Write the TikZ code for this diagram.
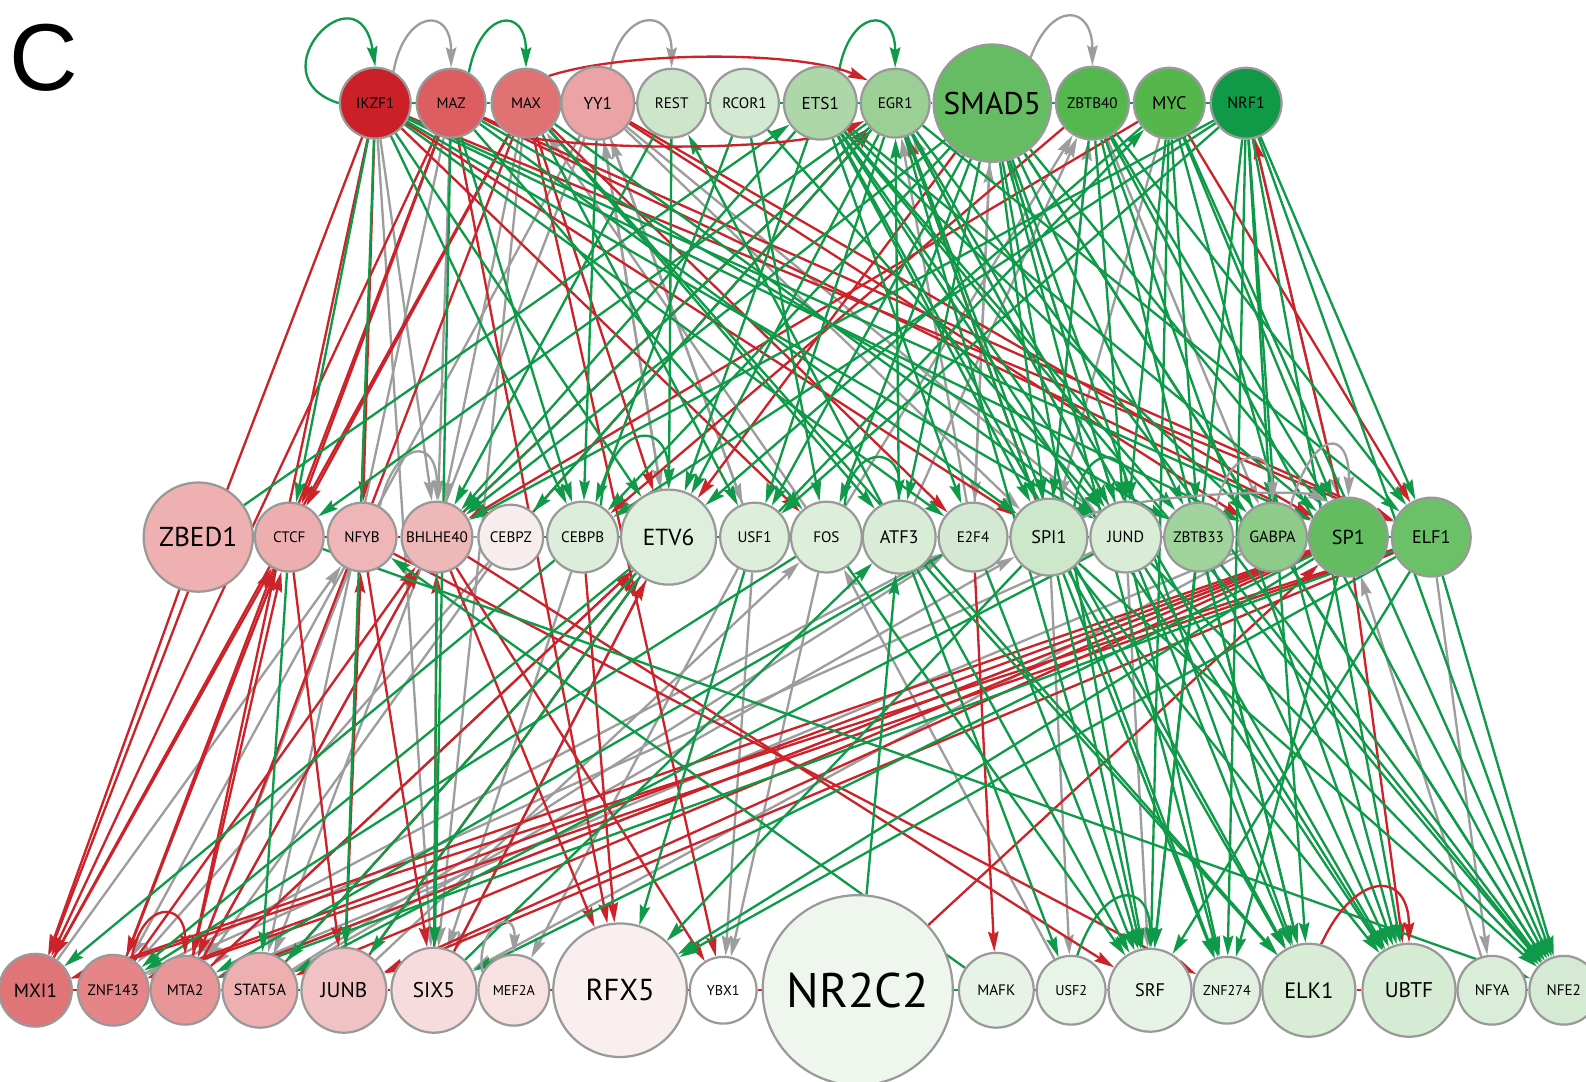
\documentclass[tikz,border=0pt]{standalone}
\usepackage{fontspec}
\newfontfamily\nf{PT Sans}
\newfontfamily\lf{Liberation Sans}
\usetikzlibrary{arrows.meta}
\pgfdeclarelayer{bg}
\pgfsetlayers{bg,main}
\definecolor{cr}{HTML}{CC2229}
\definecolor{cg}{HTML}{0E9A48}
\definecolor{cy}{HTML}{9D9D9D}
\definecolor{ndb}{HTML}{999999}
\newcommand\tfnode[7]{\definecolor{c#1}{HTML}{#6}\node[tfs, minimum size=#5pt, fill=c#1, font=\nf\fontsize{#7}{#7}\selectfont] (#1) at (#2,-#3) {#4};}
\tikzset{
  tfs/.style={circle, draw=ndb, line width=1.1pt, inner sep=0pt, text=black},
  ahd/.style={-{Stealth[length=10pt,width=5.2pt,inset=1.4pt]}},
  er/.style={draw=cr, line width=1.15pt, ahd},
  eg/.style={draw=cg, line width=1.15pt, ahd},
  ey/.style={draw=cy, line width=1.15pt, ahd},
  sr/.style={draw=cr, line width=1.2pt},
  sg/.style={draw=cg, line width=1.2pt},
  sy/.style={draw=cy, line width=1.2pt}
}
\begin{document}
\begin{tikzpicture}[x=0.5pt,y=0.5pt]
\useasboundingbox (0,0) rectangle (1568,-1069);
\begin{pgfonlayer}{bg}
\fill[white] (0,0) rectangle (1568,-1069);
\end{pgfonlayer}
\node[font=\lf\fontsize{47}{47}\selectfont, inner sep=0pt] (lbl) at (43,-57) {C};
% top row
\tfnode{ikzf1}{371}{102}{IKZF1}{35}{CB2027}{7.5}
\tfnode{maz}{446}{102}{MAZ}{34}{DD5E60}{7.5}
\tfnode{max}{520}{102}{MAX}{34}{E07274}{7.5}
\tfnode{yy1}{591}{102}{YY1}{36}{EBA3A5}{8.5}
\tfnode{rest}{664}{102}{REST}{34}{CDE6CB}{7.5}
\tfnode{rcor1}{736}{102}{RCOR1}{34}{D3E9D1}{7.5}
\tfnode{ets1}{811}{102}{ETS1}{36}{AED7A9}{8.5}
\tfnode{egr1}{885}{102}{EGR1}{34}{9BCF95}{7.5}
\tfnode{smad5}{981}{102}{SMAD5}{58}{66BC62}{15.5}
\tfnode{zbtb40}{1080}{102}{ZBTB40}{36}{55B74F}{7.5}
\tfnode{myc}{1156}{102}{MYC}{35}{55B74B}{9}
\tfnode{nrf1}{1232}{102}{NRF1}{35}{109A48}{8}
% middle row
\tfnode{zbed1}{196}{531}{ZBED1}{54}{EEB0B1}{13.5}
\tfnode{ctcf}{286}{531}{CTCF}{34}{EDAEAF}{7.5}
\tfnode{nfyb}{358}{531}{NFYB}{34}{EEB6B7}{7.5}
\tfnode{bhlhe40}{432}{531}{BHLHE40}{35}{EEB7B8}{7.5}
\tfnode{cebpz}{505}{531}{CEBPZ}{32}{F8EDED}{7.5}
\tfnode{cebpb}{576}{531}{CEBPB}{35}{DCEEDB}{7.5}
\tfnode{etv6}{661}{531}{ETV6}{47}{DFEFDD}{11.5}
\tfnode{usf1}{746}{531}{USF1}{34}{DDEEDB}{7.5}
\tfnode{fos}{817}{531}{FOS}{35}{DDEEDB}{7.5}
\tfnode{atf3}{889}{531}{ATF3}{36}{D8ECD6}{9}
\tfnode{e2f4}{962}{531}{E2F4}{34}{D3E9D1}{7.5}
\tfnode{spi1}{1037}{531}{SPI1}{38}{CDE7CB}{9}
\tfnode{jund}{1113}{531}{JUND}{35}{D8ECD6}{8}
\tfnode{zbtb33}{1185}{531}{ZBTB33}{34}{A1D39C}{7.5}
\tfnode{gabpa}{1258}{531}{GABPA}{34}{8ECA88}{8}
\tfnode{sp1}{1333}{531}{SP1}{39}{63BC5F}{10}
\tfnode{elf1}{1415}{531}{ELF1}{39}{6CC068}{9}
% bottom row
\tfnode{mxi1}{35}{979}{MXI1}{36}{E07577}{9.5}
\tfnode{znf143}{112}{979}{ZNF143}{35}{E58587}{7.5}
\tfnode{mta2}{183}{979}{MTA2}{34}{E89698}{7.5}
\tfnode{stat5a}{257}{979}{STAT5A}{37}{EEAFB0}{8}
\tfnode{junb}{340}{979}{JUNB}{42}{F0C2C3}{10.5}
\tfnode{six5}{429}{979}{SIX5}{42}{F6DCDD}{10.5}
\tfnode{mef2a}{508}{979}{MEF2A}{35}{F7E1E1}{7}
\tfnode{rfx5}{613}{979}{RFX5}{66}{FAEFEF}{15}
\tfnode{ybx1}{715}{979}{YBX1}{33}{FFFFFF}{7}
\tfnode{nr2c2}{848}{979}{NR2C2}{94}{EFF6EE}{24}
\tfnode{mafk}{985}{979}{MAFK}{37}{E7F3E6}{7.5}
\tfnode{usf2}{1059}{979}{USF2}{34}{E9F4E8}{7}
\tfnode{srf}{1137}{979}{SRF}{41}{E7F3E6}{9}
\tfnode{znf274}{1213}{979}{ZNF274}{33}{E1F0E0}{7}
\tfnode{elk1}{1294}{979}{ELK1}{46}{D8ECD6}{11}
\tfnode{ubtf}{1393}{979}{UBTF}{46}{D6EBD4}{10.5}
\tfnode{nfya}{1475}{979}{NFYA}{34}{DAEDD8}{7.5}
\tfnode{nfe2}{1546}{979}{NFE2}{34}{D4EAD2}{7.5}
\begin{pgfonlayer}{bg}
% grey edges
\foreach \a/\b in {ikzf1/bhlhe40, ikzf1/six5, maz/bhlhe40, maz/stat5a, max/bhlhe40, max/six5,
  yy1/usf1, yy1/etv6, yy1/jund, yy1/spi1, yy1/stat5a, yy1/znf143,
  smad5/e2f4, zbtb40/gabpa, myc/spi1, nrf1/sp1,
  e2f4/egr1, jund/egr1, e2f4/smad5, jund/smad5, atf3/zbtb40, fos/zbtb40, spi1/zbtb40, usf1/yy1, etv6/yy1, fos/max,
  ctcf/znf143, nfyb/mta2, bhlhe40/mta2, cebpz/mta2, cebpz/znf143, cebpb/six5, etv6/mta2, etv6/six5,
  usf1/ybx1, usf1/mef2a, fos/ybx1, spi1/usf2, jund/srf, jund/znf143, gabpa/mta2, gabpa/six5, elf1/nfya,
  znf143/e2f4, stat5a/e2f4, mta2/sp1, junb/fos, nfya/sp1, mxi1/nfyb, stat5a/spi1, usf2/fos}
  \draw[ey] (\a) -- (\b);
% red edges
\foreach \a/\b in {ikzf1/mxi1, ikzf1/nfyb, ikzf1/spi1, ikzf1/elf1, ikzf1/mta2, ikzf1/fos,
  maz/ctcf, maz/elf1, maz/sp1, maz/mxi1, maz/rfx5, maz/znf143,
  max/ctcf, max/etv6, max/e2f4, max/mxi1, max/mta2, max/ybx1,
  yy1/sp1, yy1/gabpa, smad5/etv6, zbtb40/cebpb, myc/bhlhe40, myc/elf1,
  bhlhe40/egr1, cebpz/egr1, spi1/egr1, sp1/nrf1,
  zbed1/mxi1, ctcf/junb, nfyb/znf274, nfyb/six5, bhlhe40/rfx5, bhlhe40/ybx1, bhlhe40/srf,
  cebpb/rfx5, e2f4/mafk,
  sp1/mxi1, sp1/znf143, sp1/mta2, sp1/stat5a, sp1/junb, sp1/ubtf, elf1/junb, elf1/mxi1, elf1/znf143,
  mxi1/ctcf, znf143/ctcf, mta2/ctcf, mta2/bhlhe40, znf143/bhlhe40, junb/nfyb, mta2/etv6, stat5a/etv6,
  junb/etv6, six5/etv6, nr2c2/sp1, six5/bhlhe40}
  \draw[er] (\a) -- (\b);
% green edges
\foreach \a/\b in {ikzf1/ctcf, ikzf1/cebpb, ikzf1/jund, ikzf1/gabpa, ikzf1/sp1, ikzf1/etv6, ikzf1/e2f4, ikzf1/junb,
  maz/cebpb, maz/spi1, maz/zbtb33, maz/fos, maz/six5,
  max/usf1, max/jund, max/atf3, max/elk1, yy1/cebpb,
  rest/etv6, rest/bhlhe40, rcor1/cebpb, rcor1/fos, rcor1/jund,
  ets1/jund, ets1/spi1, ets1/gabpa, ets1/zbtb33, ets1/e2f4, ets1/bhlhe40, ets1/etv6, ets1/sp1, ets1/ubtf, ets1/elk1, ets1/nfe2,
  egr1/bhlhe40, egr1/cebpz, egr1/etv6, egr1/jund, egr1/spi1, egr1/elf1, egr1/usf1, egr1/ctcf, egr1/srf, egr1/ubtf, egr1/nfe2, egr1/znf274,
  smad5/bhlhe40, smad5/cebpb, smad5/jund, smad5/spi1, smad5/gabpa, smad5/sp1, smad5/zbtb33, smad5/atf3, smad5/fos, smad5/usf1,
  smad5/elk1, smad5/nfe2, smad5/srf, smad5/znf274,
  zbtb40/jund, zbtb40/spi1, zbtb40/sp1, zbtb40/elf1, zbtb40/elk1, zbtb40/nfe2, zbtb40/ubtf,
  myc/jund, myc/zbtb33, myc/sp1, myc/etv6, myc/ubtf, myc/srf, myc/nfe2,
  nrf1/bhlhe40, nrf1/cebpb, nrf1/usf1, nrf1/gabpa, nrf1/elf1, nrf1/elk1, nrf1/ubtf, nrf1/srf, nrf1/znf274, nrf1/nfe2,
  atf3/egr1, usf1/myc, atf3/rest, zbed1/ets1,
  ctcf/stat5a, ctcf/nfe2, bhlhe40/six5, cebpb/mxi1, etv6/stat5a, etv6/junb, etv6/znf143, usf1/rfx5,
  fos/srf, fos/znf143, atf3/elk1, atf3/srf, atf3/usf2, e2f4/srf, e2f4/mta2,
  spi1/elk1, spi1/ubtf, spi1/nfe2, spi1/srf, spi1/znf274, spi1/rfx5,
  jund/znf274, jund/elk1, jund/ubtf, jund/nfe2, jund/stat5a,
  zbtb33/ubtf, zbtb33/elk1, zbtb33/nfe2, zbtb33/srf,
  gabpa/nfe2, sp1/six5, sp1/rfx5, sp1/znf274, elf1/srf, elf1/nfe2, elf1/mta2, elf1/rfx5,
  six5/atf3, nr2c2/atf3, mafk/nfyb}
  \draw[eg] (\a) -- (\b);
% loops and arcs
\draw[eg] (ikzf1.west) .. controls (250,-75) and (355,35) .. (ikzf1.north);
\draw[ey] (ikzf1.60) .. controls (400,-10) and (446,-5) .. (maz.north);
\draw[eg] (maz.60) .. controls (475,-10) and (520,-5) .. (max.north);
\draw[ey] (yy1.70) .. controls (615,-10) and (664,-5) .. (rest.north);
\draw[eg] (ets1.60) .. controls (840,-10) and (885,-5) .. (egr1.north);
\draw[ey] (smad5.50) .. controls (1040,0) and (1080,-5) .. (zbtb40.north);
\draw[er] (max.50) .. controls (620,-50) and (790,-50) .. (egr1.140);
\draw[er] (max.-120) .. controls (580,-150) and (790,-150) .. (egr1.-150);
\draw[ey] (nfyb.60) .. controls (390,-435) and (432,-430) .. (bhlhe40.north);
\draw[eg] (cebpb.60) .. controls (600,-420) and (661,-410) .. (etv6.north);
\draw[eg] (fos.60) .. controls (840,-440) and (889,-440) .. (atf3.north);
\draw[eg] (spi1.50) .. controls (1070,-440) and (1113,-440) .. (jund.north);
\draw[ey] (zbtb33.60) .. controls (1215,-440) and (1258,-440) .. (gabpa.north);
\draw[ey] (gabpa.60) .. controls (1300,-420) and (1335,-425) .. (sp1.north);
\draw[ey] (spi1.30) .. controls (1130,-485) and (1290,-485) .. (sp1.120);
\draw[er] (znf143.60) .. controls (140,-890) and (183,-890) .. (mta2.north);
\draw[ey] (mef2a.150) .. controls (470,-915) and (510,-895) .. (mef2a.north);
\draw[eg] (usf2.80) .. controls (1090,-870) and (1137,-870) .. (srf.north);
\draw[er] (elk1.75) .. controls (1340,-860) and (1393,-860) .. (ubtf.north);
% short links between neighbours
\foreach \a/\b in {ikzf1/maz, maz/max, max/yy1, yy1/rest, rest/rcor1, rcor1/ets1, ets1/egr1, egr1/smad5, smad5/zbtb40, zbtb40/myc, myc/nrf1,
  cebpz/cebpb, cebpb/etv6, etv6/usf1, usf1/fos, e2f4/spi1, spi1/jund, sp1/elf1,
  stat5a/junb, nr2c2/mafk, mafk/usf2, usf2/srf, srf/znf274, nfya/nfe2}
  \draw[sg] (\a) -- (\b);
\foreach \a/\b in {zbed1/ctcf, ctcf/nfyb, nfyb/bhlhe40, fos/atf3, mxi1/znf143, znf143/mta2, mta2/stat5a, junb/six5,
  six5/mef2a, mef2a/rfx5, rfx5/ybx1, ybx1/nr2c2, znf274/elk1, elk1/ubtf}
  \draw[sr] (\a) -- (\b);
\foreach \a/\b in {bhlhe40/cebpz, atf3/e2f4, jund/zbtb33, zbtb33/gabpa, gabpa/sp1, ubtf/nfya}
  \draw[sy] (\a) -- (\b);
\end{pgfonlayer}
\end{tikzpicture}
\end{document}
